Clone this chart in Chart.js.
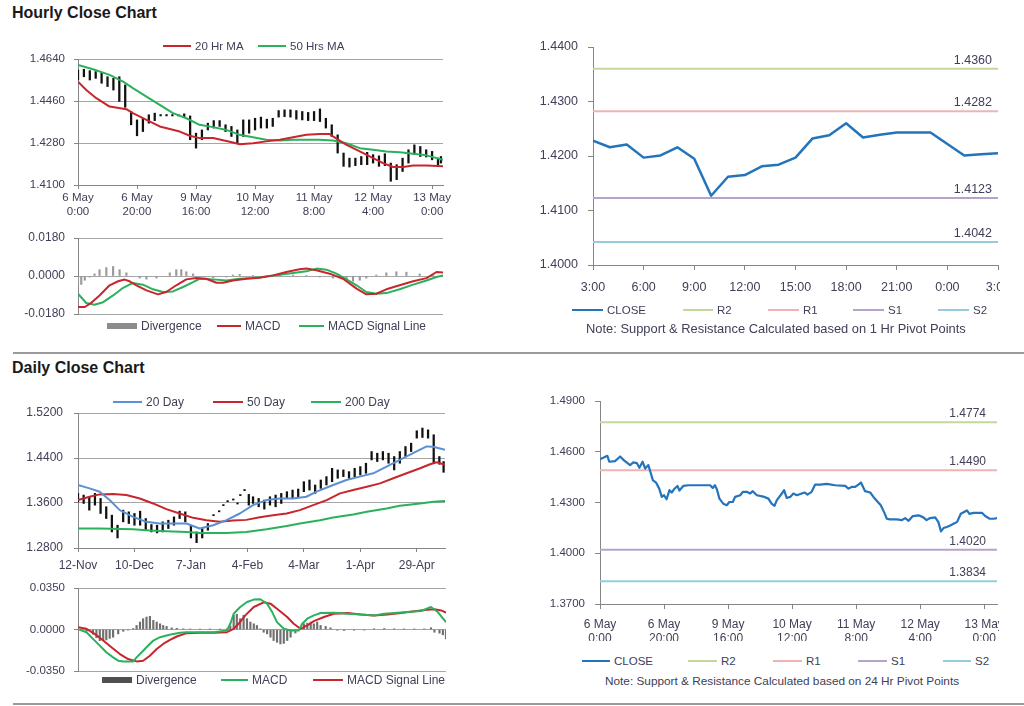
<!DOCTYPE html>
<html><head><meta charset="utf-8">
<script src="https://cdn.jsdelivr.net/npm/chart.js@4.4.1/dist/chart.umd.min.js"></script>
<style>
html,body{margin:0;padding:0;background:#fff;}
body{width:1024px;height:706px;position:relative;overflow:hidden;font-family:Arial,"Liberation Sans",Helvetica,sans-serif;}
.box{position:absolute;}
.hd{position:absolute;left:12px;font-weight:bold;font-size:16px;color:#1a1a1a;line-height:20px;}
.sep{position:absolute;left:13px;width:1011px;height:2px;background:#9a9a9a;}
.lg{position:absolute;height:16px;line-height:16px;white-space:nowrap;display:flex;align-items:center;color:#404058;}
.sw{display:inline-block;margin-right:4px;}
.note{position:absolute;white-space:nowrap;color:#404058;line-height:16px;}
</style></head><body>
<div class="hd" style="top:3px">Hourly Close Chart</div>
<div class="sep" style="top:352px"></div>
<div class="hd" style="top:358px">Daily Close Chart</div>
<div class="sep" style="top:703px"></div>
<div class="box" style="left:0;top:50px;width:460px;height:170px"><canvas id="cA"></canvas></div>
<div class="box" style="left:0;top:228px;width:460px;height:94px"><canvas id="cC"></canvas></div>
<div class="box" style="left:520px;top:37px;width:480px;height:260px"><canvas id="cB"></canvas></div>
<div class="box" style="left:0;top:403px;width:460px;height:175px"><canvas id="cD"></canvas></div>
<div class="box" style="left:0;top:580px;width:460px;height:98px"><canvas id="cE"></canvas></div>
<div class="box" style="left:520px;top:391px;width:479px;height:250px"><canvas id="cF"></canvas></div>
<script>
// ---------------- DATA ----------------
const hourlyTickHours = [0,20,40,60,80,100,120];
const hourlyTickLabels = [['6 May','0:00'],['6 May','20:00'],['9 May','16:00'],['10 May','12:00'],['11 May','8:00'],['12 May','4:00'],['13 May','0:00']];
const hourlyMaNames = ['20 Hr MA','50 Hrs MA'];

const hourlyBarHour = [0,2,4,6,8,10,12,14,16,18,20,22,24,26,28,30,32,34,36,38,40,42,44,46,48,50,52,54,56,58,60,62,64,66,68,70,72,74,76,78,80,82,84,86,88,90,92,94,96,98,100,102,104,106,108,110,112,114,116,118,120,122,123];
const hourlyBarLow = [1.4550,1.4564,1.4550,1.4557,1.4536,1.4522,1.4507,1.4458,1.4433,1.4358,1.4311,1.4329,1.4365,1.4376,1.4396,1.4396,1.4396,1.4396,1.4391,1.4294,1.4258,1.4294,1.4336,1.4344,1.4351,1.4329,1.4308,1.4277,1.4308,1.4322,1.4336,1.4344,1.4344,1.4351,1.4391,1.4393,1.4391,1.4382,1.4379,1.4376,1.4376,1.4372,1.4344,1.4308,1.4237,1.4180,1.4177,1.4183,1.4187,1.4187,1.4194,1.4180,1.4183,1.4116,1.4123,1.4158,1.4194,1.4230,1.4222,1.4220,1.4208,1.4187,1.4194];
const hourlyBarHigh = [1.4593,1.4596,1.4590,1.4586,1.4579,1.4564,1.4557,1.4564,1.4529,1.4415,1.4379,1.4386,1.4401,1.4408,1.4402,1.4402,1.4402,1.4402,1.4405,1.4396,1.4322,1.4336,1.4365,1.4376,1.4376,1.4358,1.4351,1.4336,1.4379,1.4379,1.4386,1.4391,1.4382,1.4386,1.4419,1.4422,1.4422,1.4419,1.4415,1.4411,1.4415,1.4426,1.4386,1.4358,1.4315,1.4237,1.4215,1.4215,1.4222,1.4240,1.4230,1.4225,1.4234,1.4194,1.4187,1.4215,1.4251,1.4272,1.4265,1.4251,1.4244,1.4215,1.4222];
const ma20Hour = [0,2.8,6.2,10.7,16.4,18.6,23.2,27.7,34.5,37.9,41.2,45.8,52.5,54.8,59.3,63.8,68.4,72.9,77.4,81.9,85.3,86.4,91,95.5,100,103.4,106.8,110.2,113.6,118.1,123.7];
const ma20Value = [1.4543,1.4507,1.4472,1.4436,1.4425,1.4408,1.4379,1.4351,1.4329,1.4311,1.4301,1.4301,1.4282,1.4275,1.4279,1.4287,1.4294,1.4305,1.4315,1.4319,1.4319,1.4308,1.4272,1.4244,1.4215,1.4194,1.4177,1.4177,1.4184,1.4184,1.4180];
const ma50Hour = [0,5.1,10.7,15.3,18.6,23.2,27.7,32.2,36.7,41.2,45.8,50.3,54.8,59.3,63.8,68.4,72.9,81.9,86.4,91,95.5,100,104.5,109,113.6,118.1,123.7];
const ma50Value = [1.4614,1.4596,1.4572,1.4543,1.4515,1.4479,1.4443,1.4408,1.4386,1.4358,1.4348,1.4336,1.4315,1.4305,1.4294,1.4291,1.4294,1.4294,1.4291,1.4279,1.4258,1.4251,1.4244,1.4240,1.4234,1.4227,1.4208];

const macdNames = ['Divergence','MACD','MACD Signal Line'];
const hMacdHour = [0,2.3,4.5,7.3,10.7,13.6,15.8,17.5,19.8,23.2,27.1,29.9,33.3,36.7,40.1,43.5,46.9,49.2,52.5,57.1,61.6,66.1,70.6,75.1,77.4,80.8,85.3,89.8,94.4,97.7,101.1,104.5,109,113.6,118.1,121.5,123.7];
const hMacdValue = [-0.0147,-0.0147,-0.0127,-0.0092,-0.0044,-0.0025,-0.0017,-0.0025,-0.0044,-0.0068,-0.0087,-0.0076,-0.0044,-0.0016,-0.0010,-0.0013,-0.0032,-0.0032,-0.0021,-0.0013,-0.0008,0.0003,0.0019,0.0032,0.0035,0.0027,0.0011,-0.0013,-0.0060,-0.0087,-0.0084,-0.0063,-0.0044,-0.0025,-0.0010,0.0019,0.0016];
const hSignalHour = [0,2.8,5.6,8.5,11.9,15.3,18.6,22,25.4,28.8,32.2,35.6,39,41.2,45.8,50.3,54.8,59.3,63.8,68.4,72.9,77.4,80.8,84.2,87.6,91,94.4,97.7,101.1,104.5,109,113.6,118.1,121.5,123.7];
const hSignalValue = [-0.0084,-0.0128,-0.0136,-0.0124,-0.0092,-0.0056,-0.0033,-0.0041,-0.0063,-0.0076,-0.0073,-0.0052,-0.0029,-0.0013,-0.0016,-0.0021,-0.0013,-0.0010,-0.0002,0.0006,0.0014,0.0022,0.0035,0.0030,0.0011,-0.0016,-0.0044,-0.0076,-0.0084,-0.0081,-0.0063,-0.0041,-0.0021,-0.0005,0.0003];
const hDivHour = [0,1.1,2.3,4,5.6,7.3,9.6,11.9,14.1,16.4,20.9,23.2,26.6,28.8,31.1,33.3,35,36.7,39,45.8,50.3,52.5,54.8,59.3,63.8,68.4,72.9,77.4,81.9,86.4,91,93.2,95.5,97.7,101.1,104.5,107.9,111.3,115.8,120.3,123.7];
const hDivValue = [-0.0045,-0.004,-0.002,-0.0005,0.001,0.003,0.004,0.0045,0.003,0.0015,-0.001,-0.0015,-0.001,-0.0003,0.0015,0.003,0.003,0.002,0.001,-0.0008,-0.0005,0.0005,0.0008,0.0003,-0.0003,0.0005,0.0005,0.0003,-0.0005,-0.001,-0.0015,-0.0025,-0.002,-0.001,0.0005,0.0015,0.002,0.0018,0.001,0.0005,0.0003];

const pivotNames = ['CLOSE','R2','R1','S1','S2'];
const pivotHourLabels = ['3:00','4:00','5:00','6:00','7:00','8:00','9:00','10:00','11:00','12:00','13:00','14:00','15:00','16:00','17:00','18:00','19:00','20:00','21:00','22:00','23:00','0:00','1:00','2:00','3:00'];
const pivotHourClose = [1.4228,1.4216,1.4221,1.4197,1.4201,1.4216,1.4195,1.4127,1.4162,1.4165,1.4181,1.4184,1.4197,1.4232,1.4238,1.4260,1.4234,1.4239,1.4243,1.4243,1.4243,1.4222,1.4201,1.4203,1.4205];
const hourPivotLevels = [1.4360,1.4282,1.4123,1.4042];

const dailyTickDays = [0,20,40,60,80,100,120];
const dailyTickLabels = ['12-Nov','10-Dec','7-Jan','4-Feb','4-Mar','1-Apr','29-Apr'];
const dailyMaNames = ['20 Day','50 Day','200 Day'];
const dailyBarDay = [0,2,4,6,8,10,12,14,16,18,20,22,24,26,28,30,32,34,36,38,40,42,44,46,48,50,51.5,53,55,56.5,57.5,59,60.5,62,64,66,68,70,72,74,76,78,80,82,84,86,88,90,92,94,96,98,100,102,104,106,108,110,112,114,116,118,120,122,124,126,128,129.5];
const dailyBarLow = [1.3620,1.3592,1.3473,1.3562,1.3414,1.3324,1.3086,1.2979,1.3265,1.3235,1.3205,1.3205,1.3116,1.3086,1.3068,1.3086,1.3146,1.3205,1.3324,1.3265,1.2979,1.2895,1.2979,1.3116,1.3374,1.3443,1.3552,1.3622,1.3652,1.3582,1.3731,1.3820,1.3562,1.3592,1.3533,1.3491,1.3562,1.3533,1.3592,1.3681,1.3681,1.3711,1.3801,1.3830,1.3771,1.3860,1.3920,1.3979,1.4039,1.4069,1.4039,1.4069,1.4098,1.4128,1.4366,1.4337,1.4366,1.4307,1.4188,1.4307,1.4426,1.4515,1.4753,1.4765,1.4753,1.4307,1.4289,1.4146];
const dailyBarHigh = [1.3770,1.3741,1.3711,1.3771,1.3681,1.3533,1.3384,1.3205,1.3473,1.3443,1.3414,1.3455,1.3324,1.3217,1.3205,1.3265,1.3294,1.3354,1.3455,1.3443,1.3205,1.3086,1.3146,1.3235,1.3394,1.3463,1.3572,1.3642,1.3672,1.3602,1.3751,1.3840,1.3753,1.3711,1.3681,1.3652,1.3711,1.3741,1.3771,1.3801,1.3830,1.3848,1.3979,1.4009,1.3920,1.4009,1.4069,1.4217,1.4188,1.4188,1.4158,1.4217,1.4247,1.4307,1.4515,1.4485,1.4515,1.4485,1.4426,1.4515,1.4604,1.4664,1.4884,1.4932,1.4900,1.4813,1.4426,1.4337];
const d20Day = [0,4.1,7.7,11.2,14.8,19.5,24.2,28.9,33.7,38.4,43.1,47.9,52.6,57.3,62,66.8,71.5,76.2,80.9,84.5,90.4,95.1,99.8,104.6,109.3,114,118.7,123.5,125.8,130];
const d20Value = [1.3920,1.3860,1.3801,1.3652,1.3473,1.3354,1.3265,1.3235,1.3235,1.3235,1.3146,1.3205,1.3295,1.3413,1.3562,1.3652,1.3681,1.3681,1.3711,1.3801,1.3920,1.4009,1.4069,1.4128,1.4247,1.4366,1.4485,1.4605,1.4599,1.4545];
const d50Day = [0,4.1,7.7,12.4,17.1,21.9,26.6,31.3,36,40.8,45.5,50.2,54.9,59.6,64.4,69.1,73.9,78.6,83.3,88.1,92.8,97.5,102.3,107,111.7,116.4,121.2,124.7,127.1,130];
const d50Value = [1.3652,1.3711,1.3753,1.3759,1.3741,1.3681,1.3592,1.3491,1.3414,1.3336,1.3294,1.3265,1.3288,1.3300,1.3348,1.3384,1.3414,1.3473,1.3562,1.3652,1.3771,1.3830,1.3890,1.3949,1.4039,1.4128,1.4217,1.4289,1.4325,1.4277];
const d200Day = [0,7.7,19.5,25.4,31.3,38.4,43.1,52.6,59.6,66.8,73.9,78.6,85.7,90.4,97.5,102.3,109.3,114,121.2,125.9,130];
const d200Value = [1.3146,1.3146,1.3134,1.3110,1.3098,1.3086,1.3068,1.3068,1.3086,1.3134,1.3193,1.3235,1.3294,1.3342,1.3396,1.3443,1.3503,1.3550,1.3592,1.3622,1.3634];

const dMacdDay = [0.4,3,5.3,7.7,10,12.4,14.2,16,18.3,19.5,20.7,22.5,24.2,26.6,29,31.3,33.7,36.1,38.4,43.1,47.9,52.6,53.8,55,57.3,59.7,62.1,64.4,66.8,68.6,70.3,72.7,75.1,78,79.2,81,83.3,85.7,90.4,95.2,99.9,104.6,108.2,111.7,116.4,121.2,124.7,127.1,130];
const dMacdValue = [0,-0.0023,-0.0079,-0.0136,-0.0192,-0.0235,-0.0263,-0.0269,-0.0269,-0.0269,-0.0235,-0.0192,-0.0150,-0.0093,-0.0065,-0.0051,-0.0037,-0.0028,-0.0023,-0.0023,-0.0023,-0.0008,0.0048,0.0133,0.0190,0.0232,0.0252,0.0255,0.0218,0.0147,0.0062,0.0006,-0.0008,-0.0008,0.0048,0.0091,0.0119,0.0139,0.0142,0.0133,0.0127,0.0119,0.0133,0.0139,0.0147,0.0156,0.0190,0.0147,0.0062];
const dSignalDay = [0,3,5.9,8.9,11.8,14.8,17.7,20.7,23,25.4,27.8,30.1,32.5,34.9,38.4,43.1,47.9,52.6,55,56.7,59.1,62.1,65.6,68,70.3,73.9,76.2,78.6,81,83.3,86.9,90.4,95.2,99.9,104.6,109.3,114.1,118.8,123.5,125.9,128.3,130];
const dSignalValue = [0.0020,0.0006,-0.0037,-0.0093,-0.0150,-0.0207,-0.0249,-0.0269,-0.0263,-0.0221,-0.0164,-0.0122,-0.0088,-0.0059,-0.0031,-0.0028,-0.0028,-0.0023,0.0006,0.0048,0.0119,0.0190,0.0229,0.0218,0.0175,0.0105,0.0048,0.0006,0.0034,0.0071,0.0105,0.0133,0.0139,0.0127,0.0119,0.0127,0.0139,0.0153,0.0167,0.0170,0.0161,0.0142];
const dDivDay = [1.2,3,5.3,6.5,7.7,8.9,10,11.2,12.4,14.2,16,17.7,19.5,20.7,21.9,23,24.2,25.4,26.6,27.8,29,30.1,31.3,33.1,34.9,37.2,39.6,43.1,46.6,50.2,52.6,53.8,55,56.1,57.3,58.5,59.7,60.9,62.1,63.2,64.4,65.6,66.8,68,69.1,70.3,71.5,72.7,73.9,75.1,76.8,78.6,79.8,81,82.2,83.3,84.5,85.7,87.5,89.2,91.6,94,97.5,101.1,104.6,108.2,111.7,115.2,118.8,122.3,124.7,125.9,127.7,128.9,130];
const dDivValue = [-0.0006,-0.0015,-0.004,-0.007,-0.0094,-0.0092,-0.0088,-0.0075,-0.0065,-0.0037,-0.0015,-0.0005,0.0008,0.0034,0.0063,0.0091,0.0105,0.0111,0.0077,0.0063,0.0048,0.0034,0.0026,0.0014,0.0010,0.0006,0.0004,0.0004,0.0003,0.0003,0.0006,0.0030,0.0120,0.0128,0.0091,0.0120,0.0091,0.0063,0.0048,0.0034,0.0006,-0.0023,-0.0037,-0.0065,-0.0093,-0.0108,-0.0122,-0.0117,-0.0093,-0.0065,-0.0030,0.0010,0.0048,0.0054,0.0063,0.0048,0.0063,0.0034,0.0026,0.0014,-0.0006,-0.0008,-0.0006,-0.0005,0.0006,0.0008,0.0006,0.0005,0.0003,0.0005,0.0015,-0.0023,-0.0031,-0.0045,-0.0080];

const brHour = [0,1,2.3,2.9,4.7,6.3,7.5,9.4,10.4,11.5,12.3,13.3,14.1,15.1,15.8,16.5,17.5,18.5,19.3,20,20.8,21.7,22.4,23.1,24.2,24.8,26,27.6,31.3,34.4,35.2,35.9,36.5,37.3,38.5,39.6,40.4,41.5,42.2,43.8,44.6,45.8,46.9,47.7,49,51,52.6,53.6,54.5,55.2,56.8,57.5,58.3,59.4,60.4,61.5,63,64,64.8,66.1,67.2,68.8,70.8,73.4,76.6,77.6,78.6,79.7,80.7,81.5,82.8,84.4,85.4,87,87.7,88.8,89.6,90.6,92.7,94.3,95.3,96.4,97.7,99.5,101,102,103.1,104.7,105.7,106.5,107.3,108.3,109.4,110.4,111.5,112.7,114.6,115.4,116.7,119.3,120.3,121.7,122.9,124];
const brClose = [1.4556,1.4564,1.4576,1.4541,1.4545,1.4572,1.4549,1.4521,1.4537,1.4533,1.4505,1.4541,1.4501,1.4521,1.4477,1.4432,1.4418,1.4382,1.4333,1.4343,1.4319,1.4373,1.4359,1.4378,1.4398,1.4371,1.4398,1.4402,1.4402,1.4402,1.4386,1.4402,1.4378,1.4323,1.4293,1.4284,1.4303,1.4303,1.4333,1.4343,1.4363,1.4363,1.4353,1.4367,1.4343,1.4335,1.4323,1.4293,1.4280,1.4313,1.4353,1.4373,1.4327,1.4333,1.4353,1.4343,1.4353,1.4359,1.4347,1.4363,1.4406,1.4406,1.4410,1.4402,1.4398,1.4382,1.4392,1.4392,1.4406,1.4418,1.4367,1.4359,1.4333,1.4299,1.4284,1.4240,1.4204,1.4200,1.4200,1.4196,1.4208,1.4192,1.4220,1.4224,1.4212,1.4196,1.4208,1.4212,1.4184,1.4129,1.4149,1.4155,1.4164,1.4174,1.4184,1.4233,1.4253,1.4233,1.4239,1.4239,1.4220,1.4204,1.4204,1.4208];
const dayPivotLevels = [1.4774,1.4490,1.4020,1.3834];
const noteHourly = 'Note: Support & Resistance Calculated based on 1 Hr Pivot Points';
const noteDaily = 'Note: Support & Resistance Calculated based on 24 Hr Pivot Points';

// ---------------- STYLE / HELPERS ----------------
const TXT = '#404058', GRID = '#a6a6a6', AXIS = '#868686';
const RED = '#c8262c', GREEN = '#2bb05c', BLUE = '#5b90d2', CLOSEBLUE = '#2474bc';
const PIVOTCOL = ['#c4d79b','#eeb4b4','#b4a4cc','#93cddd'];
const FONT = 'Arial, "Liberation Sans", Helvetica, sans-serif';
Chart.defaults.font.family = FONT;
Chart.defaults.color = TXT;
Chart.defaults.animation = false;
Chart.defaults.events = [];
Chart.defaults.plugins.legend.display = false;
Chart.defaults.plugins.tooltip.enabled = false;

const fmt4 = v => (Math.abs(v) < 1e-9 ? 0 : v).toFixed(4);
const pts = (xs, ys) => xs.map((x, k) => ({x, y: ys[k]}));
const rng = (xs, lo, hi) => xs.map((x, k) => ({x, y: [lo[k], hi[k]]}));
const flat = (x0, x1, v) => [{x: x0, y: v}, {x: x1, y: v}];

Chart.register({
  id: 'pivotLabels',
  afterDatasetsDraw(chart, args, o) {
    if (!o || !o.values) return;
    const {ctx, chartArea} = chart, y = chart.scales.y;
    ctx.save();
    ctx.font = o.size + 'px ' + FONT;
    ctx.fillStyle = TXT; ctx.textAlign = 'right'; ctx.textBaseline = 'alphabetic';
    o.values.forEach(v => ctx.fillText(v.toFixed(4), chartArea.right - o.inset, y.getPixelForValue(v) - o.lift));
    ctx.restore();
  }
});

function yAxis(o) {
  return { type: 'linear', position: 'left', min: o.min, max: o.max,
    ticks: { stepSize: o.step, includeBounds: true, autoSkip: false, padding: o.pad, font: {size: o.fs}, color: TXT, callback: fmt4 },
    grid: { drawOnChartArea: o.grid, color: GRID, tickColor: AXIS, tickLength: o.tl || 4, lineWidth: 1 },
    border: { display: true, color: AXIS, width: 1 },
    afterFit(s) { s.width = o.w; s.paddingTop = 0; s.paddingBottom = 0; } };
}
function xAxis(o) {
  return { type: 'linear', position: 'bottom', min: o.min, max: o.max, display: o.display !== false, offset: false,
    ticks: { stepSize: o.step, includeBounds: false, autoSkip: false, maxRotation: 0, minRotation: 0, padding: o.pad || 0,
      font: {size: o.fs || 11, lineHeight: 1.2}, color: TXT, callback: o.cb },
    grid: { offset: false, drawOnChartArea: false, color: AXIS, tickColor: AXIS, tickLength: o.tl || 4 },
    border: { color: AXIS },
    afterFit(s) { if (o.h !== undefined) s.height = o.h; s.paddingLeft = 0; s.paddingRight = 0; } };
}
const line = (label, data, color, width, order) => ({ type: 'line', label, data, borderColor: color, backgroundColor: color,
  borderWidth: width, pointRadius: 0, tension: 0, order, borderJoinStyle: 'round' });
const bars = (label, data, color, thick, order) => ({ type: 'bar', label, data, backgroundColor: color, barThickness: thick, order, grouped: false });
const base = (padding, scales, plugins) => ({ responsive: true, maintainAspectRatio: false, layout: {padding}, scales, plugins: plugins || {} });
const lookup = (keys, labels) => v => { const k = keys.indexOf(v); return k >= 0 ? labels[k] : ''; };

// Panel A: hourly price
new Chart(document.getElementById('cA'), { type: 'line', data: { datasets: [
  line(hourlyMaNames[0], pts(ma20Hour, ma20Value), RED, 2, 1),
  line(hourlyMaNames[1], pts(ma50Hour, ma50Value), GREEN, 2, 2),
  bars('Hourly bars', rng(hourlyBarHour, hourlyBarLow, hourlyBarHigh), '#111', 1.6, 3)
]}, options: base({top: 9, right: 17, left: 0, bottom: 0}, {
  x: xAxis({min: 0, max: 123.7, step: 20, h: 35, fs: 11.5, pad: 2, cb: lookup(hourlyTickHours, hourlyTickLabels)}),
  y: yAxis({min: 1.41, max: 1.464, step: 0.018, w: 78, fs: 11.5, pad: 9, grid: true})
})});

// Panel C: hourly MACD
new Chart(document.getElementById('cC'), { type: 'line', data: { datasets: [
  line(macdNames[1], pts(hMacdHour, hMacdValue), RED, 2, 1),
  line(macdNames[2], pts(hSignalHour, hSignalValue), GREEN, 2, 2),
  bars(macdNames[0], pts(hDivHour, hDivValue), '#9a9a9a', 1.5, 3)
]}, options: base({top: 10, right: 17, left: 0, bottom: 8}, {
  x: xAxis({min: 0, max: 123.7, step: 20, display: false}),
  y: yAxis({min: -0.018, max: 0.018, step: 0.018, w: 78, fs: 12, pad: 9, grid: true})
})});

// Panel B: hourly pivots
new Chart(document.getElementById('cB'), { type: 'line', data: { datasets: [
  line(pivotNames[0], pts(pivotHourLabels.map((_, k) => k), pivotHourClose), CLOSEBLUE, 2.5, 1),
  ...hourPivotLevels.map((v, k) => line(pivotNames[k + 1], flat(0, 24, v), PIVOTCOL[k], 2, 2 + k))
]}, options: base({top: 10, right: 2, left: 0, bottom: 0}, {
  x: xAxis({min: 0, max: 24, step: 3, h: 32, fs: 12.5, pad: 10, tl: 5, cb: v => pivotHourLabels[v] || ''}),
  y: yAxis({min: 1.40, max: 1.44, step: 0.01, w: 73, fs: 12.5, pad: 10, tl: 5, grid: false})
}, { pivotLabels: {values: hourPivotLevels, inset: 6, lift: 5, size: 12.5} })});

// Panel D: daily price
new Chart(document.getElementById('cD'), { type: 'line', data: { datasets: [
  line(dailyMaNames[0], pts(d20Day, d20Value), BLUE, 2, 1),
  line(dailyMaNames[1], pts(d50Day, d50Value), RED, 2, 2),
  line(dailyMaNames[2], pts(d200Day, d200Value), GREEN, 2, 3),
  bars('Daily bars', rng(dailyBarDay, dailyBarLow, dailyBarHigh), '#111', 1.6, 4)
]}, options: base({top: 10, right: 15, left: 0, bottom: 0}, {
  x: xAxis({min: 0, max: 130, step: 20, h: 30, fs: 12, pad: 6, cb: lookup(dailyTickDays, dailyTickLabels)}),
  y: yAxis({min: 1.28, max: 1.52, step: 0.08, w: 78, fs: 12, pad: 11, grid: true})
})});

// Panel E: daily MACD
new Chart(document.getElementById('cE'), { type: 'line', data: { datasets: [
  line(macdNames[1], pts(dMacdDay, dMacdValue), GREEN, 2, 1),
  line(macdNames[2], pts(dSignalDay, dSignalValue), RED, 2, 2),
  bars(macdNames[0], pts(dDivDay, dDivValue), '#707070', 1.5, 3)
]}, options: base({top: 8, right: 14, left: 0, bottom: 7}, {
  x: xAxis({min: 0, max: 130, step: 20, display: false}),
  y: yAxis({min: -0.035, max: 0.035, step: 0.035, w: 78, fs: 11.5, pad: 9, grid: true})
})});

// Panel F: daily pivots (hourly close)
new Chart(document.getElementById('cF'), { type: 'line', data: { datasets: [
  line(pivotNames[0], pts(brHour, brClose), CLOSEBLUE, 2.2, 1),
  ...dayPivotLevels.map((v, k) => line(pivotNames[k + 1], flat(0, 124, v), PIVOTCOL[k], 2, 2 + k))
]}, options: base({top: 10, right: 2, left: 0, bottom: 0}, {
  x: xAxis({min: 0, max: 124, step: 20, h: 37, fs: 12, pad: 8, tl: 5, cb: lookup(hourlyTickHours, hourlyTickLabels)}),
  y: yAxis({min: 1.37, max: 1.49, step: 0.03, w: 80, fs: 11.5, pad: 10, tl: 5, grid: false})
}, { pivotLabels: {values: dayPivotLevels, inset: 11, lift: 5, size: 12} })});

// ---------------- LEGENDS & NOTES (HTML text) ----------------
function legend(y, fs, items) {
  items.forEach(it => {
    const d = document.createElement('div');
    d.className = 'lg';
    d.style.left = it.x + 'px'; d.style.top = (y - 8) + 'px'; d.style.fontSize = fs + 'px';
    const sw = document.createElement('span');
    sw.className = 'sw';
    sw.style.width = it.w + 'px'; sw.style.height = (it.h || 2) + 'px'; sw.style.background = it.c;
    const tx = document.createElement('span'); tx.textContent = it.t;
    d.appendChild(sw); d.appendChild(tx); document.body.appendChild(d);
  });
}
function note(x, y, fs, text) {
  const d = document.createElement('div'); d.className = 'note';
  d.style.left = x + 'px'; d.style.top = (y - 8) + 'px'; d.style.fontSize = fs + 'px'; d.textContent = text;
  document.body.appendChild(d);
}
legend(46, 11.5, [{x: 163, w: 28, c: RED, t: hourlyMaNames[0]}, {x: 258, w: 28, c: GREEN, t: hourlyMaNames[1]}]);
legend(326, 12, [{x: 107, w: 30, h: 6, c: '#8c8c8c', t: macdNames[0]}, {x: 217, w: 24, c: RED, t: macdNames[1]}, {x: 299, w: 25, c: GREEN, t: macdNames[2]}]);
legend(310, 11.5, [{x: 572, w: 31, c: CLOSEBLUE, t: pivotNames[0]}, {x: 683, w: 30, c: PIVOTCOL[0], t: pivotNames[1]}, {x: 768, w: 31, c: PIVOTCOL[1], t: pivotNames[2]}, {x: 853, w: 31, c: PIVOTCOL[2], t: pivotNames[3]}, {x: 938, w: 31, c: PIVOTCOL[3], t: pivotNames[4]}]);
note(586, 329, 12.9, noteHourly);
legend(402, 12, [{x: 113, w: 29, c: BLUE, t: dailyMaNames[0]}, {x: 213, w: 30, c: RED, t: dailyMaNames[1]}, {x: 311, w: 30, c: GREEN, t: dailyMaNames[2]}]);
legend(680, 12, [{x: 102, w: 30, h: 6, c: '#505050', t: macdNames[0]}, {x: 221, w: 27, c: GREEN, t: macdNames[1]}, {x: 313, w: 30, c: RED, t: macdNames[2]}]);
legend(661, 11.5, [{x: 582, w: 28, c: CLOSEBLUE, t: pivotNames[0]}, {x: 688, w: 29, c: PIVOTCOL[0], t: pivotNames[1]}, {x: 773, w: 29, c: PIVOTCOL[1], t: pivotNames[2]}, {x: 858, w: 29, c: PIVOTCOL[2], t: pivotNames[3]}, {x: 943, w: 28, c: PIVOTCOL[3], t: pivotNames[4]}]);
note(605, 681, 11.8, noteDaily);
</script>
</body></html>
